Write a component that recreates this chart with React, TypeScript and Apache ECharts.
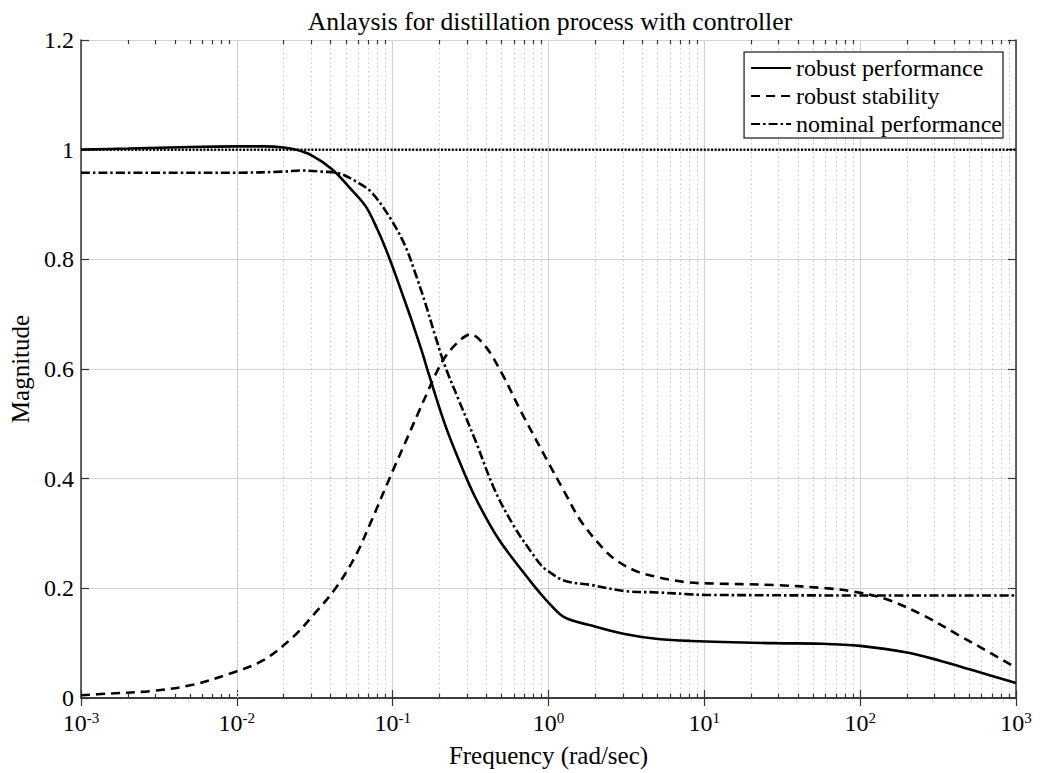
import React, { useEffect, useRef } from "react";
import * as echarts from "echarts";

const rpFreq = [0.001, 0.002, 0.005, 0.01, 0.015, 0.02, 0.024, 0.03, 0.041, 0.052, 0.067, 0.08, 0.09, 0.1, 0.115, 0.133, 0.154, 0.17, 0.216, 0.265, 0.336, 0.478, 0.78, 0.904, 1.0, 1.27, 1.89, 3.08, 5.04, 8.2, 28, 56, 100, 200, 325, 537, 1000];
const rpMag = [1.0, 1.002, 1.005, 1.006, 1.006, 1.004, 1.0, 0.99, 0.964, 0.933, 0.897, 0.854, 0.82, 0.786, 0.738, 0.687, 0.632, 0.592, 0.5, 0.435, 0.368, 0.29, 0.21, 0.188, 0.174, 0.147, 0.132, 0.1166, 0.1075, 0.104, 0.1, 0.099, 0.095, 0.083, 0.068, 0.05, 0.0275];

const rsFreq = [0.001, 0.0015, 0.0029, 0.0052, 0.0089, 0.0146, 0.0227, 0.032, 0.043, 0.0577, 0.0738, 0.092, 0.104, 0.1205, 0.147, 0.17, 0.1875, 0.217, 0.265, 0.315, 0.392, 0.5, 0.673, 1.0, 1.27, 1.62, 2.29, 2.79, 3.75, 4.8, 6.1, 8, 10.5, 28, 62, 91, 148, 257, 417, 678, 1000];
const rsMag = [0.005, 0.008, 0.013, 0.024, 0.044, 0.068, 0.11, 0.156, 0.2, 0.259, 0.326, 0.39, 0.425, 0.466, 0.522, 0.562, 0.589, 0.622, 0.65, 0.663, 0.642, 0.593, 0.52, 0.429, 0.375, 0.322, 0.27, 0.249, 0.23, 0.2217, 0.2155, 0.2107, 0.209, 0.206, 0.2, 0.194, 0.18, 0.15, 0.1165, 0.083, 0.055];

const npFreq = [0.001, 0.005, 0.01, 0.02, 0.026, 0.035, 0.045, 0.0607, 0.0738, 0.098, 0.1205, 0.1396, 0.162, 0.1877, 0.217, 0.265, 0.339, 0.454, 0.61, 0.78, 0.904, 1.0, 1.27, 1.89, 3.08, 5.04, 8.2, 10, 100, 1000];
const npMag = [0.958, 0.958, 0.958, 0.96, 0.962, 0.96, 0.957, 0.939, 0.921, 0.872, 0.824, 0.775, 0.72, 0.66, 0.605, 0.544, 0.47, 0.378, 0.31, 0.265, 0.241, 0.231, 0.2137, 0.206, 0.195, 0.1925, 0.189, 0.188, 0.187, 0.187];

const unityFreq = [0.001, 1000];
const unityMag = [1, 1];

const yTicks = [0, 0.2, 0.4, 0.6, 0.8, 1, 1.2];
const decadeExponents = [-3, -2, -1, 0, 1, 2];
const minorMultipliers = [2, 3, 4, 5, 6, 7, 8, 9];

const FONT = "Liberation Serif";

const zip = (xs: number[], ys: number[]) => xs.map((x, i) => [x, ys[i]]);

export default function App() {
  const ref = useRef<HTMLDivElement>(null);
  useEffect(() => {
    if (!ref.current) return;
    const chart = echarts.init(ref.current, undefined, { renderer: "svg" });

    const minorFreqs: number[] = [];
    decadeExponents.forEach((e) => minorMultipliers.forEach((m) => minorFreqs.push(m * Math.pow(10, e))));
    const yMin = yTicks[0];
    const yMax = yTicks[yTicks.length - 1];

    const markLineData: any[] = [];
    minorFreqs.forEach((f) => {
      markLineData.push({ xAxis: f, lineStyle: { color: "#c8c8c8", width: 1, type: [1.5, 3] } });
      markLineData.push([
        { coord: [f, yMin], lineStyle: { color: "#333", width: 1.2, type: "solid" } },
        { coord: [f, yMin + 0.0075] },
      ]);
      markLineData.push([
        { coord: [f, yMax], lineStyle: { color: "#333", width: 1.2, type: "solid" } },
        { coord: [f, yMax - 0.0075] },
      ]);
    });

    const axisLineStyle = { color: "#333", width: 1.5 };
    const curveCommon = {
      type: "line",
      symbol: "none",
      smooth: 0.35,
      z: 4,
      itemStyle: { color: "#000" },
    };

    chart.setOption({
      animation: false,
      backgroundColor: "#fff",
      title: {
        text: "Anlaysis for distillation process with controller",
        left: 545,
        textAlign: "center",
        top: 3,
        textStyle: { fontFamily: FONT, fontSize: 25.7, fontWeight: "normal", color: "#000" },
      },
      grid: { left: 78, right: 25, top: 40, bottom: 74 },
      legend: {
        right: 38,
        top: 52,
        orient: "vertical",
        align: "left",
        data: ["robust performance", "robust stability", "nominal performance"],
        itemWidth: 40,
        itemHeight: 24,
        itemGap: 4,
        padding: [4, 1, 2, 6],
        backgroundColor: "#fff",
        borderColor: "#444",
        borderWidth: 1.5,
        borderRadius: 0,
        itemStyle: { opacity: 0 },
        textStyle: { fontFamily: FONT, fontSize: 24, color: "#000" },
      },
      xAxis: [
        {
          type: "log",
          logBase: 10,
          min: 0.001,
          max: 1000,
          name: "Frequency (rad/sec)",
          nameLocation: "middle",
          nameGap: 45,
          nameTextStyle: { fontFamily: FONT, fontSize: 25, color: "#000" },
          axisLine: { show: true, lineStyle: axisLineStyle },
          axisTick: { show: true, inside: true, length: 8, lineStyle: { color: "#333", width: 1.2 } },
          splitLine: { show: true, lineStyle: { color: "#d4d4d4", width: 1.2 } },
          axisLabel: {
            margin: 12,
            formatter: (v: number) => `{b|10}{s|${Math.round(Math.log10(v))}}`,
            rich: {
              b: { fontFamily: FONT, fontSize: 24, color: "#000", lineHeight: 26 },
              s: { fontFamily: FONT, fontSize: 15, color: "#000", verticalAlign: "top", lineHeight: 15 },
            },
          },
        },
        {
          type: "log",
          logBase: 10,
          min: 0.001,
          max: 1000,
          position: "top",
          axisLine: { show: true, lineStyle: axisLineStyle },
          axisTick: { show: true, inside: true, length: 8, lineStyle: { color: "#333", width: 1.2 } },
          axisLabel: { show: false },
          splitLine: { show: false },
        },
      ],
      yAxis: [
        {
          type: "value",
          min: yMin,
          max: yMax,
          interval: 0.2,
          name: "Magnitude",
          nameLocation: "middle",
          nameGap: 48,
          nameTextStyle: { fontFamily: FONT, fontSize: 25, color: "#000" },
          axisLine: { show: true, lineStyle: axisLineStyle },
          axisTick: { show: true, inside: true, length: 8, lineStyle: { color: "#333", width: 1.2 } },
          splitLine: { show: true, lineStyle: { color: "#d4d4d4", width: 1.2 } },
          axisLabel: { fontFamily: FONT, fontSize: 24, color: "#000", margin: 7 },
        },
        {
          type: "value",
          min: yMin,
          max: yMax,
          interval: 0.2,
          position: "right",
          axisLine: { show: true, lineStyle: axisLineStyle },
          axisTick: { show: true, inside: true, length: 8, lineStyle: { color: "#333", width: 1.2 } },
          axisLabel: { show: false },
          splitLine: { show: false },
        },
      ],
      series: [
        {
          name: "unity",
          type: "line",
          data: zip(unityFreq, unityMag),
          symbol: "none",
          silent: true,
          z: 3,
          lineStyle: { color: "#000", width: 2.5, type: [2, 1.6] },
          markLine: {
            silent: true,
            symbol: "none",
            label: { show: false },
            animation: false,
            z: 1,
            data: markLineData,
          },
        },
        {
          ...curveCommon,
          name: "robust performance",
          data: zip(rpFreq, rpMag),
          lineStyle: { color: "#000", width: 2.6, type: "solid" },
        },
        {
          ...curveCommon,
          name: "robust stability",
          data: zip(rsFreq, rsMag),
          lineStyle: { color: "#000", width: 2.6, type: [9, 6] },
        },
        {
          ...curveCommon,
          name: "nominal performance",
          data: zip(npFreq, npMag),
          lineStyle: { color: "#000", width: 2.6, type: [9, 3, 2.5, 3] },
        },
      ],
    });
    return () => chart.dispose();
  }, []);
  return (
    <div
      ref={ref}
      style={{ position: "absolute", left: 0, top: 0, width: 1041, height: 773, background: "#fff" }}
    />
  );
}
